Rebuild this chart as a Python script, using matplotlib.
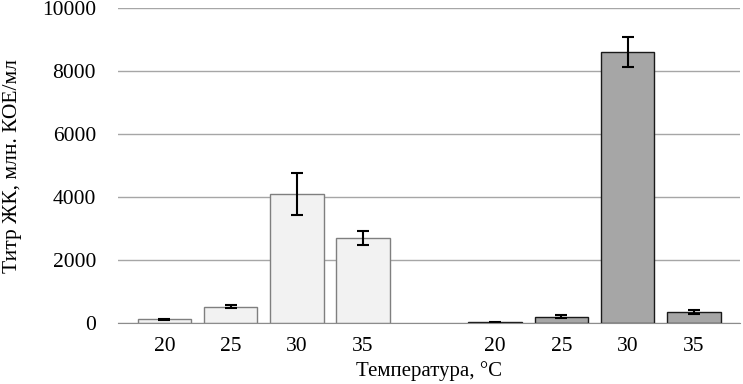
import matplotlib
matplotlib.use("Agg")
import matplotlib.pyplot as plt
import numpy as np

plt.rcParams['font.family'] = ['Liberation Serif', 'DejaVu Serif']

temps = ["20", "25", "30", "35"]
group1_values = [110, 520, 4100, 2700]
group1_errors = [25, 60, 670, 220]
group2_values = [20, 200, 8600, 340]
group2_errors = [10, 40, 470, 60]

fig = plt.figure(figsize=(7.43, 3.84), dpi=100)
ax = fig.add_axes([0.159, 0.159, 0.837, 0.82])

pos1 = np.arange(4)
pos2 = np.arange(4) + 5
w = 0.81
ax.bar(pos1, group1_values, width=w, color='#f2f2f2', edgecolor='#7f7f7f', linewidth=1.0, zorder=3)
ax.bar(pos2, group2_values, width=w, color='#a6a6a6', edgecolor='#1a1a1a', linewidth=1.0, zorder=3)
ax.errorbar(pos1, group1_values, yerr=group1_errors, fmt='none', ecolor='black', elinewidth=1.5, capsize=4, capthick=1.5, zorder=4)
ax.errorbar(pos2, group2_values, yerr=group2_errors, fmt='none', ecolor='black', elinewidth=1.5, capsize=4, capthick=1.5, zorder=4)

ax.set_xlim(-0.7, 8.7)
ax.set_ylim(0, 10000)
ax.set_yticks(np.arange(0, 10001, 2000))
ax.set_xticks(list(pos1) + list(pos2))
ax.set_xticklabels(temps + temps)
ax.grid(axis='y', color='#a6a6a6', linewidth=1.0, zorder=0)
for s in ['top', 'right', 'left']:
    ax.spines[s].set_visible(False)
ax.spines['bottom'].set_color('#8c8c8c')
ax.spines['bottom'].set_zorder(5)
ax.tick_params(axis='both', length=0, labelsize=15.5, colors='black')
ax.tick_params(axis='x', pad=10)
ax.tick_params(axis='y', pad=16)
ax.set_xlabel("Температура, °C", fontsize=15, labelpad=4)
ax.set_ylabel("Титр ЖК, млн. КОЕ/мл", fontsize=15.5, labelpad=14)

fig.savefig("out.png", dpi=100)
